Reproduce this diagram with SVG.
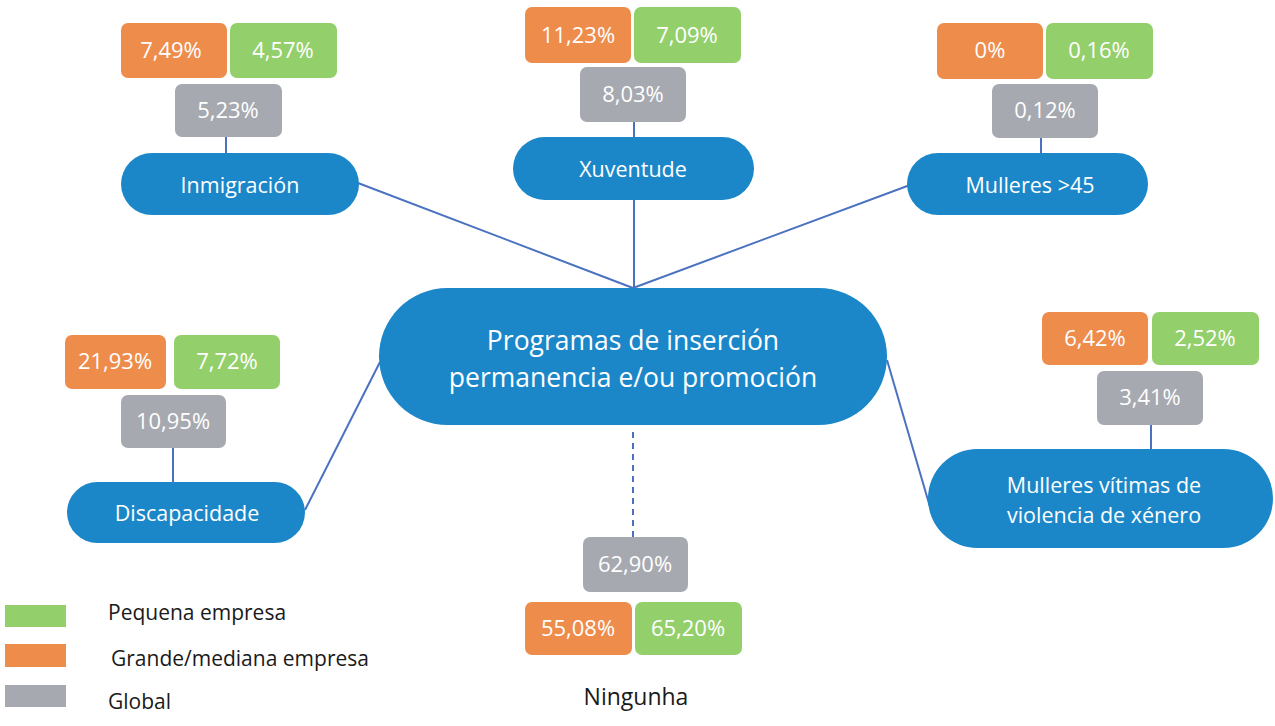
<svg xmlns="http://www.w3.org/2000/svg" width="1275" height="726" viewBox="0 0 1275 726">
<style>
.pill{fill:#1b87c9}
.or{fill:#ee8c4c}
.gr{fill:#93cf6b}
.gy{fill:#a6a9b0}
.v{font-family:"Open Sans",sans-serif;font-size:22px;fill:#ffffff;text-anchor:middle}
.pt{font-family:"Open Sans",sans-serif;font-size:21.5px;fill:#ffffff;text-anchor:middle}
.mt{font-family:"Open Sans",sans-serif;font-size:26.5px;fill:#ffffff;text-anchor:middle}
.lg{font-family:"Open Sans",sans-serif;font-size:21px;fill:#1a1a1a}
.conn line{stroke:#4a72c0;stroke-width:2}
</style>
<rect width="1275" height="726" fill="#ffffff"/>
<g class="conn" id="connectors">
<line x1="358" y1="183" x2="633" y2="288"/>
<line x1="634" y1="200" x2="634" y2="288"/>
<line x1="910" y1="185" x2="633" y2="288"/>
<line x1="305" y1="510" x2="380" y2="362"/>
<line x1="887" y1="360" x2="930" y2="507"/>
<line x1="226" y1="137" x2="226" y2="153"/>
<line x1="634" y1="122" x2="634" y2="137"/>
<line x1="1041" y1="138" x2="1041" y2="153"/>
<line x1="173" y1="448" x2="173" y2="482"/>
<line x1="1151" y1="425" x2="1151" y2="449"/>
<line x1="633" y1="432" x2="633" y2="537" stroke-dasharray="6,5"/>
</g>
<g id="main">
<rect x="379" y="288" width="508" height="137" rx="68.5" class="pill"/>
<text x="633" y="350" class="mt">Programas de inserción</text>
<text x="633" y="387" class="mt">permanencia e/ou promoción</text>
</g>
<g id="inmigracion">
<rect x="121" y="23" width="106" height="55" rx="7" class="or"/>
<rect x="230" y="23" width="107" height="55" rx="7" class="gr"/>
<rect x="175" y="84" width="107" height="53" rx="7" class="gy"/>
<text x="171" y="58" class="v">7,49%</text>
<text x="283" y="58" class="v">4,57%</text>
<text x="228" y="118" class="v">5,23%</text>
<rect x="121" y="153" width="238" height="62" rx="31" class="pill"/>
<text x="240" y="193" class="pt">Inmigración</text>
</g>
<g id="xuventude">
<rect x="525" y="7" width="106" height="56" rx="7" class="or"/>
<rect x="634" y="7" width="107" height="56" rx="7" class="gr"/>
<rect x="580" y="67" width="106" height="55" rx="7" class="gy"/>
<text x="578" y="43" class="v">11,23%</text>
<text x="687" y="43" class="v">7,09%</text>
<text x="633" y="102" class="v">8,03%</text>
<rect x="513" y="137" width="241" height="63" rx="31.5" class="pill"/>
<text x="633" y="177" class="pt">Xuventude</text>
</g>
<g id="mulleres45">
<rect x="937" y="23" width="106" height="56" rx="7" class="or"/>
<rect x="1046" y="23" width="107" height="56" rx="7" class="gr"/>
<rect x="992" y="84" width="106" height="54" rx="7" class="gy"/>
<text x="990" y="58" class="v">0%</text>
<text x="1099" y="58" class="v">0,16%</text>
<text x="1045" y="118" class="v">0,12%</text>
<rect x="907" y="153" width="241" height="62" rx="31" class="pill"/>
<text x="1030" y="193" class="pt">Mulleres &gt;45</text>
</g>
<g id="discapacidade">
<rect x="65" y="335" width="101" height="54" rx="7" class="or"/>
<rect x="174" y="335" width="106" height="54" rx="7" class="gr"/>
<rect x="121" y="395" width="105" height="53" rx="7" class="gy"/>
<text x="115" y="369" class="v">21,93%</text>
<text x="227" y="369" class="v">7,72%</text>
<text x="173" y="429" class="v">10,95%</text>
<rect x="67" y="482" width="238" height="61" rx="30.5" class="pill"/>
<text x="187" y="521" class="pt">Discapacidade</text>
</g>
<g id="vitimas">
<rect x="1042" y="312" width="106" height="53" rx="7" class="or"/>
<rect x="1152" y="312" width="107" height="53" rx="7" class="gr"/>
<rect x="1097" y="371" width="106" height="54" rx="7" class="gy"/>
<text x="1095" y="346" class="v">6,42%</text>
<text x="1205" y="346" class="v">2,52%</text>
<text x="1150" y="405" class="v">3,41%</text>
<rect x="928" y="449" width="345" height="99" rx="49.5" class="pill"/>
<text x="1104" y="493" class="pt">Mulleres vítimas de</text>
<text x="1104" y="523" class="pt">violencia de xénero</text>
</g>
<g id="ningunha">
<rect x="583" y="537" width="105" height="55" rx="7" class="gy"/>
<rect x="525" y="602" width="107" height="53" rx="7" class="or"/>
<rect x="635" y="602" width="107" height="53" rx="7" class="gr"/>
<text x="635" y="572" class="v">62,90%</text>
<text x="578" y="636" class="v">55,08%</text>
<text x="688" y="636" class="v">65,20%</text>
<text x="636" y="705" font-family="Open Sans, sans-serif" font-size="23" fill="#1a1a1a" text-anchor="middle">Ningunha</text>
</g>
<g id="legend">
<rect x="5" y="605" width="61" height="22" class="gr"/>
<rect x="5" y="644" width="61" height="23" class="or"/>
<rect x="5" y="685" width="61" height="22" class="gy"/>
<text x="108" y="620" class="lg">Pequena empresa</text>
<text x="111" y="666" class="lg">Grande/mediana empresa</text>
<text x="108" y="709" class="lg">Global</text>
</g>
</svg>
